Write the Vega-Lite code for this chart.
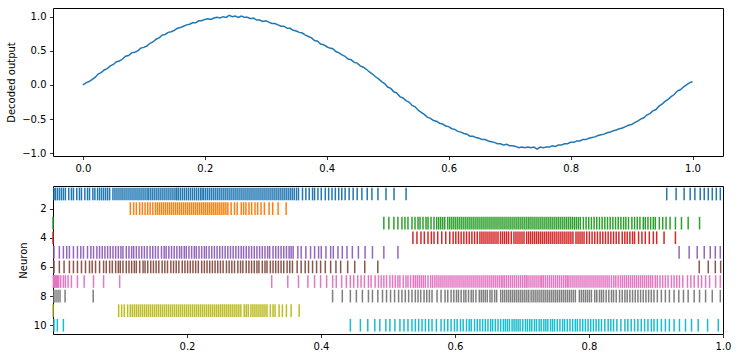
{
"$schema": "https://vega.github.io/schema/vega-lite/v6.json",
"background": "white",
"padding": {"left": 6, "top": 7, "right": 5, "bottom": 5},
"spacing": 30,
"bounds": "flush",
"config": {
"font": "DejaVu Sans",
"view": {"stroke": "#000", "strokeWidth": 1},
"axis": {"domain": false, "grid": false, "labelFlush": false, "labelFont": "DejaVu Sans", "labelFontSize": 10, "labelColor": "#000", "tickColor": "#000", "tickSize": 3.5, "tickWidth": 0.8, "labelPadding": 3.5, "titleFont": "DejaVu Sans", "titleFontSize": 10, "titleFontWeight": "normal", "titleColor": "#000", "titlePadding": 5}
},
"datasets": {
"decoded": [
{"t":0.000,"y":0.00},{"t":0.005,"y":0.03},{"t":0.010,"y":0.05},{"t":0.015,"y":0.08},{"t":0.020,"y":0.11},{"t":0.025,"y":0.16},{"t":0.030,"y":0.18},{"t":0.035,"y":0.22},{"t":0.040,"y":0.24},{"t":0.045,"y":0.28},
{"t":0.050,"y":0.30},{"t":0.055,"y":0.34},{"t":0.060,"y":0.35},{"t":0.065,"y":0.38},{"t":0.070,"y":0.42},{"t":0.075,"y":0.43},{"t":0.080,"y":0.47},{"t":0.085,"y":0.48},{"t":0.090,"y":0.50},{"t":0.095,"y":0.54},
{"t":0.100,"y":0.55},{"t":0.105,"y":0.57},{"t":0.110,"y":0.61},{"t":0.115,"y":0.63},{"t":0.120,"y":0.67},{"t":0.125,"y":0.69},{"t":0.130,"y":0.73},{"t":0.135,"y":0.74},{"t":0.140,"y":0.77},{"t":0.145,"y":0.78},
{"t":0.150,"y":0.80},{"t":0.155,"y":0.83},{"t":0.160,"y":0.84},{"t":0.165,"y":0.86},{"t":0.170,"y":0.88},{"t":0.175,"y":0.89},{"t":0.180,"y":0.91},{"t":0.185,"y":0.91},{"t":0.190,"y":0.94},{"t":0.195,"y":0.94},
{"t":0.200,"y":0.96},{"t":0.205,"y":0.97},{"t":0.210,"y":0.96},{"t":0.215,"y":0.98},{"t":0.220,"y":0.99},{"t":0.225,"y":0.98},{"t":0.230,"y":1.00},{"t":0.235,"y":0.99},{"t":0.240,"y":1.02},{"t":0.245,"y":1.00},
{"t":0.250,"y":1.01},{"t":0.255,"y":0.99},{"t":0.260,"y":1.01},{"t":0.265,"y":0.99},{"t":0.270,"y":0.99},{"t":0.275,"y":0.97},{"t":0.280,"y":0.98},{"t":0.285,"y":0.95},{"t":0.290,"y":0.95},{"t":0.295,"y":0.93},
{"t":0.300,"y":0.94},{"t":0.305,"y":0.92},{"t":0.310,"y":0.90},{"t":0.315,"y":0.90},{"t":0.320,"y":0.88},{"t":0.325,"y":0.86},{"t":0.330,"y":0.86},{"t":0.335,"y":0.83},{"t":0.340,"y":0.83},{"t":0.345,"y":0.80},
{"t":0.350,"y":0.79},{"t":0.355,"y":0.77},{"t":0.360,"y":0.76},{"t":0.365,"y":0.73},{"t":0.370,"y":0.71},{"t":0.375,"y":0.69},{"t":0.380,"y":0.65},{"t":0.385,"y":0.64},{"t":0.390,"y":0.60},{"t":0.395,"y":0.59},
{"t":0.400,"y":0.56},{"t":0.405,"y":0.54},{"t":0.410,"y":0.53},{"t":0.415,"y":0.49},{"t":0.420,"y":0.47},{"t":0.425,"y":0.44},{"t":0.430,"y":0.42},{"t":0.435,"y":0.38},{"t":0.440,"y":0.37},{"t":0.445,"y":0.33},
{"t":0.450,"y":0.32},{"t":0.455,"y":0.28},{"t":0.460,"y":0.26},{"t":0.465,"y":0.23},{"t":0.470,"y":0.19},{"t":0.475,"y":0.16},{"t":0.480,"y":0.12},{"t":0.485,"y":0.09},{"t":0.490,"y":0.05},{"t":0.495,"y":0.02},
{"t":0.500,"y":-0.03},{"t":0.505,"y":-0.05},{"t":0.510,"y":-0.10},{"t":0.515,"y":-0.12},{"t":0.520,"y":-0.17},{"t":0.525,"y":-0.19},{"t":0.530,"y":-0.23},{"t":0.535,"y":-0.25},{"t":0.540,"y":-0.30},{"t":0.545,"y":-0.32},
{"t":0.550,"y":-0.37},{"t":0.555,"y":-0.40},{"t":0.560,"y":-0.43},{"t":0.565,"y":-0.47},{"t":0.570,"y":-0.49},{"t":0.575,"y":-0.52},{"t":0.580,"y":-0.53},{"t":0.585,"y":-0.56},{"t":0.590,"y":-0.57},{"t":0.595,"y":-0.60},
{"t":0.600,"y":-0.61},{"t":0.605,"y":-0.64},{"t":0.610,"y":-0.65},{"t":0.615,"y":-0.68},{"t":0.620,"y":-0.69},{"t":0.625,"y":-0.71},{"t":0.630,"y":-0.72},{"t":0.635,"y":-0.75},{"t":0.640,"y":-0.75},{"t":0.645,"y":-0.77},
{"t":0.650,"y":-0.78},{"t":0.655,"y":-0.80},{"t":0.660,"y":-0.80},{"t":0.665,"y":-0.82},{"t":0.670,"y":-0.83},{"t":0.675,"y":-0.84},{"t":0.680,"y":-0.86},{"t":0.685,"y":-0.86},{"t":0.690,"y":-0.88},{"t":0.695,"y":-0.87},
{"t":0.700,"y":-0.89},{"t":0.705,"y":-0.89},{"t":0.710,"y":-0.90},{"t":0.715,"y":-0.92},{"t":0.720,"y":-0.91},{"t":0.725,"y":-0.92},{"t":0.730,"y":-0.91},{"t":0.735,"y":-0.92},{"t":0.740,"y":-0.91},{"t":0.745,"y":-0.94},
{"t":0.750,"y":-0.91},{"t":0.755,"y":-0.92},{"t":0.760,"y":-0.91},{"t":0.765,"y":-0.91},{"t":0.770,"y":-0.89},{"t":0.775,"y":-0.90},{"t":0.780,"y":-0.88},{"t":0.785,"y":-0.88},{"t":0.790,"y":-0.86},{"t":0.795,"y":-0.86},
{"t":0.800,"y":-0.84},{"t":0.805,"y":-0.84},{"t":0.810,"y":-0.82},{"t":0.815,"y":-0.82},{"t":0.820,"y":-0.80},{"t":0.825,"y":-0.80},{"t":0.830,"y":-0.78},{"t":0.835,"y":-0.77},{"t":0.840,"y":-0.76},{"t":0.845,"y":-0.74},
{"t":0.850,"y":-0.73},{"t":0.855,"y":-0.72},{"t":0.860,"y":-0.70},{"t":0.865,"y":-0.69},{"t":0.870,"y":-0.67},{"t":0.875,"y":-0.66},{"t":0.880,"y":-0.64},{"t":0.885,"y":-0.63},{"t":0.890,"y":-0.61},{"t":0.895,"y":-0.59},
{"t":0.900,"y":-0.58},{"t":0.905,"y":-0.55},{"t":0.910,"y":-0.53},{"t":0.915,"y":-0.50},{"t":0.920,"y":-0.48},{"t":0.925,"y":-0.44},{"t":0.930,"y":-0.42},{"t":0.935,"y":-0.38},{"t":0.940,"y":-0.36},{"t":0.945,"y":-0.31},
{"t":0.950,"y":-0.28},{"t":0.955,"y":-0.24},{"t":0.960,"y":-0.21},{"t":0.965,"y":-0.17},{"t":0.970,"y":-0.14},{"t":0.975,"y":-0.09},{"t":0.980,"y":-0.07},{"t":0.985,"y":-0.03},{"t":0.990,"y":0.00},{"t":0.995,"y":0.03},
{"t":1.000,"y":0.05}
],
"spikes": [
{"n":1,"t":0.0015},{"n":1,"t":0.0035},{"n":1,"t":0.0065},{"n":1,"t":0.0095},{"n":1,"t":0.0125},{"n":1,"t":0.0155},{"n":1,"t":0.0185},{"n":1,"t":0.0235},{"n":1,"t":0.0275},{"n":1,"t":0.0305},{"n":1,"t":0.0355},{"n":1,"t":0.0395},{"n":1,"t":0.0425},{"n":1,"t":0.0475},{"n":1,"t":0.0515},{"n":1,"t":0.0545},{"n":1,"t":0.0595},{"n":1,"t":0.0625},{"n":1,"t":0.0665},{"n":1,"t":0.0695},{"n":1,"t":0.0725},{"n":1,"t":0.0755},{"n":1,"t":0.0785},{"n":1,"t":0.0815},{"n":1,"t":0.0845},{"n":1,"t":0.0895},{"n":1,"t":0.0925},{"n":1,"t":0.0955},{"n":1,"t":0.0985},{"n":1,"t":0.1015},{"n":1,"t":0.1044},{"n":1,"t":0.1074},{"n":1,"t":0.1104},{"n":1,"t":0.1134},{"n":1,"t":0.1164},{"n":1,"t":0.1194},{"n":1,"t":0.1224},{"n":1,"t":0.1254},{"n":1,"t":0.1284},{"n":1,"t":0.1314},{"n":1,"t":0.1344},{"n":1,"t":0.1374},{"n":1,"t":0.1404},
{"n":1,"t":0.143},{"n":1,"t":0.146},{"n":1,"t":0.149},{"n":1,"t":0.152},{"n":1,"t":0.155},{"n":1,"t":0.158},{"n":1,"t":0.161},{"n":1,"t":0.164},{"n":1,"t":0.167},{"n":1,"t":0.170},{"n":1,"t":0.173},{"n":1,"t":0.176},{"n":1,"t":0.179},{"n":1,"t":0.182},{"n":1,"t":0.1845},{"n":1,"t":0.187},{"n":1,"t":0.190},{"n":1,"t":0.193},{"n":1,"t":0.196},{"n":1,"t":0.199},{"n":1,"t":0.202},{"n":1,"t":0.205},{"n":1,"t":0.208},{"n":1,"t":0.211},{"n":1,"t":0.214},{"n":1,"t":0.217},{"n":1,"t":0.220},{"n":1,"t":0.2225},{"n":1,"t":0.225},{"n":1,"t":0.228},{"n":1,"t":0.231},{"n":1,"t":0.234},{"n":1,"t":0.237},{"n":1,"t":0.240},{"n":1,"t":0.243},{"n":1,"t":0.246},{"n":1,"t":0.249},{"n":1,"t":0.252},{"n":1,"t":0.255},{"n":1,"t":0.258},{"n":1,"t":0.261},{"n":1,"t":0.264},{"n":1,"t":0.267},{"n":1,"t":0.270},{"n":1,"t":0.273},{"n":1,"t":0.276},{"n":1,"t":0.279},{"n":1,"t":0.282},{"n":1,"t":0.285},
{"n":1,"t":0.288},{"n":1,"t":0.291},{"n":1,"t":0.294},{"n":1,"t":0.297},{"n":1,"t":0.300},{"n":1,"t":0.303},{"n":1,"t":0.306},{"n":1,"t":0.309},{"n":1,"t":0.312},{"n":1,"t":0.315},{"n":1,"t":0.318},{"n":1,"t":0.321},{"n":1,"t":0.324},{"n":1,"t":0.327},{"n":1,"t":0.330},{"n":1,"t":0.333},{"n":1,"t":0.336},{"n":1,"t":0.339},{"n":1,"t":0.342},{"n":1,"t":0.345},{"n":1,"t":0.348},{"n":1,"t":0.351},{"n":1,"t":0.354},{"n":1,"t":0.357},{"n":1,"t":0.360},{"n":1,"t":0.3634},{"n":1,"t":0.3664},{"n":1,"t":0.3724},{"n":1,"t":0.3774},{"n":1,"t":0.3824},{"n":1,"t":0.3874},{"n":1,"t":0.3904},{"n":1,"t":0.3954},{"n":1,"t":0.4004},{"n":1,"t":0.4064},{"n":1,"t":0.4114},{"n":1,"t":0.4164},{"n":1,"t":0.4214},{"n":1,"t":0.4264},{"n":1,"t":0.431},{"n":1,"t":0.436},{"n":1,"t":0.442},{"n":1,"t":0.448},{"n":1,"t":0.454},{"n":1,"t":0.461},{"n":1,"t":0.469},{"n":1,"t":0.476},{"n":1,"t":0.485},{"n":1,"t":0.497},{"n":1,"t":0.509},{"n":1,"t":0.527},
{"n":1,"t":0.916},{"n":1,"t":0.930},{"n":1,"t":0.942},{"n":1,"t":0.951},{"n":1,"t":0.958},{"n":1,"t":0.966},{"n":1,"t":0.972},{"n":1,"t":0.978},{"n":1,"t":0.984},{"n":1,"t":0.990},{"n":1,"t":0.996},
{"n":2,"t":0.1154},{"n":2,"t":0.1204},{"n":2,"t":0.1244},{"n":2,"t":0.1294},{"n":2,"t":0.1334},{"n":2,"t":0.1374},{"n":2,"t":0.1414},{"n":2,"t":0.145},{"n":2,"t":0.149},{"n":2,"t":0.153},{"n":2,"t":0.156},{"n":2,"t":0.159},{"n":2,"t":0.162},{"n":2,"t":0.165},{"n":2,"t":0.168},{"n":2,"t":0.171},{"n":2,"t":0.174},{"n":2,"t":0.177},{"n":2,"t":0.180},{"n":2,"t":0.183},{"n":2,"t":0.186},{"n":2,"t":0.189},{"n":2,"t":0.192},{"n":2,"t":0.195},{"n":2,"t":0.198},{"n":2,"t":0.201},{"n":2,"t":0.204},{"n":2,"t":0.207},{"n":2,"t":0.210},{"n":2,"t":0.213},{"n":2,"t":0.216},{"n":2,"t":0.219},{"n":2,"t":0.222},{"n":2,"t":0.225},{"n":2,"t":0.228},{"n":2,"t":0.231},{"n":2,"t":0.234},{"n":2,"t":0.237},{"n":2,"t":0.240},{"n":2,"t":0.243},{"n":2,"t":0.246},{"n":2,"t":0.249},{"n":2,"t":0.252},{"n":2,"t":0.255},{"n":2,"t":0.258},{"n":2,"t":0.261},{"n":2,"t":0.2659},{"n":2,"t":0.2709},{"n":2,"t":0.2749},{"n":2,"t":0.281},{"n":2,"t":0.2845},{"n":2,"t":0.288},{"n":2,"t":0.2925},{"n":2,"t":0.2965},{"n":2,"t":0.3015},{"n":2,"t":0.3055},{"n":2,"t":0.3105},{"n":2,"t":0.3155},{"n":2,"t":0.3225},{"n":2,"t":0.328},{"n":2,"t":0.336},{"n":2,"t":0.348},
{"n":3,"t":0.0},{"n":3,"t":0.4938},{"n":3,"t":0.5013},{"n":3,"t":0.5088},{"n":3,"t":0.5148},{"n":3,"t":0.5208},{"n":3,"t":0.5253},{"n":3,"t":0.5298},{"n":3,"t":0.5358},{"n":3,"t":0.5403},{"n":3,"t":0.5448},{"n":3,"t":0.5478},{"n":3,"t":0.5522},{"n":3,"t":0.5567},{"n":3,"t":0.5597},{"n":3,"t":0.5642},{"n":3,"t":0.5687},{"n":3,"t":0.5727},{"n":3,"t":0.5757},{"n":3,"t":0.5787},{"n":3,"t":0.5817},{"n":3,"t":0.5847},{"n":3,"t":0.5892},{"n":3,"t":0.5922},{"n":3,"t":0.5952},{"n":3,"t":0.5982},{"n":3,"t":0.6012},{"n":3,"t":0.6042},{"n":3,"t":0.6072},{"n":3,"t":0.6102},{"n":3,"t":0.6132},{"n":3,"t":0.6162},{"n":3,"t":0.6192},{"n":3,"t":0.6222},{"n":3,"t":0.6252},{"n":3,"t":0.6282},{"n":3,"t":0.6312},{"n":3,"t":0.6342},{"n":3,"t":0.6372},{"n":3,"t":0.6402},{"n":3,"t":0.6432},{"n":3,"t":0.6462},{"n":3,"t":0.6492},{"n":3,"t":0.6522},{"n":3,"t":0.6552},{"n":3,"t":0.6582},{"n":3,"t":0.6612},{"n":3,"t":0.6642},{"n":3,"t":0.6672},{"n":3,"t":0.6702},{"n":3,"t":0.6732},{"n":3,"t":0.6762},{"n":3,"t":0.6792},{"n":3,"t":0.6822},{"n":3,"t":0.6852},{"n":3,"t":0.6882},{"n":3,"t":0.6912},{"n":3,"t":0.6942},{"n":3,"t":0.6972},{"n":3,"t":0.7002},{"n":3,"t":0.7032},{"n":3,"t":0.7062},{"n":3,"t":0.7092},
{"n":3,"t":0.712},{"n":3,"t":0.715},{"n":3,"t":0.718},{"n":3,"t":0.721},{"n":3,"t":0.724},{"n":3,"t":0.727},{"n":3,"t":0.730},{"n":3,"t":0.733},{"n":3,"t":0.736},{"n":3,"t":0.739},{"n":3,"t":0.742},{"n":3,"t":0.745},{"n":3,"t":0.748},{"n":3,"t":0.751},{"n":3,"t":0.754},{"n":3,"t":0.757},{"n":3,"t":0.760},{"n":3,"t":0.763},{"n":3,"t":0.766},{"n":3,"t":0.769},{"n":3,"t":0.772},{"n":3,"t":0.775},{"n":3,"t":0.778},{"n":3,"t":0.781},{"n":3,"t":0.784},{"n":3,"t":0.787},{"n":3,"t":0.7916},{"n":3,"t":0.7956},{"n":3,"t":0.7996},{"n":3,"t":0.8036},{"n":3,"t":0.8076},{"n":3,"t":0.8116},{"n":3,"t":0.8156},{"n":3,"t":0.8196},{"n":3,"t":0.8236},{"n":3,"t":0.8276},{"n":3,"t":0.8316},{"n":3,"t":0.8356},{"n":3,"t":0.8396},{"n":3,"t":0.8436},{"n":3,"t":0.8476},{"n":3,"t":0.8516},{"n":3,"t":0.855},{"n":3,"t":0.859},{"n":3,"t":0.864},{"n":3,"t":0.868},{"n":3,"t":0.872},{"n":3,"t":0.876},{"n":3,"t":0.881},{"n":3,"t":0.884},{"n":3,"t":0.888},{"n":3,"t":0.892},{"n":3,"t":0.896},{"n":3,"t":0.899},{"n":3,"t":0.905},{"n":3,"t":0.910},{"n":3,"t":0.915},{"n":3,"t":0.921},{"n":3,"t":0.929},{"n":3,"t":0.938},{"n":3,"t":0.948},{"n":3,"t":0.965},
{"n":4,"t":0.0},{"n":4,"t":0.5372},{"n":4,"t":0.5432},{"n":4,"t":0.5492},{"n":4,"t":0.5542},{"n":4,"t":0.5597},{"n":4,"t":0.5647},{"n":4,"t":0.5687},{"n":4,"t":0.5742},{"n":4,"t":0.5802},{"n":4,"t":0.5862},{"n":4,"t":0.5922},{"n":4,"t":0.5972},{"n":4,"t":0.6012},{"n":4,"t":0.6052},{"n":4,"t":0.6092},{"n":4,"t":0.6132},{"n":4,"t":0.6172},{"n":4,"t":0.6212},{"n":4,"t":0.6252},{"n":4,"t":0.6292},{"n":4,"t":0.6332},{"n":4,"t":0.6372},{"n":4,"t":0.6402},{"n":4,"t":0.6432},{"n":4,"t":0.6462},{"n":4,"t":0.6492},{"n":4,"t":0.6522},{"n":4,"t":0.6552},{"n":4,"t":0.6582},{"n":4,"t":0.6612},{"n":4,"t":0.6642},{"n":4,"t":0.668},{"n":4,"t":0.671},{"n":4,"t":0.674},{"n":4,"t":0.677},{"n":4,"t":0.680},{"n":4,"t":0.684},{"n":4,"t":0.688},{"n":4,"t":0.691},{"n":4,"t":0.694},{"n":4,"t":0.697},{"n":4,"t":0.700},{"n":4,"t":0.703},{"n":4,"t":0.707},{"n":4,"t":0.710},
{"n":4,"t":0.713},{"n":4,"t":0.716},{"n":4,"t":0.719},{"n":4,"t":0.722},{"n":4,"t":0.725},{"n":4,"t":0.728},{"n":4,"t":0.731},{"n":4,"t":0.734},{"n":4,"t":0.737},{"n":4,"t":0.740},{"n":4,"t":0.743},{"n":4,"t":0.746},{"n":4,"t":0.749},{"n":4,"t":0.752},{"n":4,"t":0.755},{"n":4,"t":0.758},{"n":4,"t":0.761},{"n":4,"t":0.764},{"n":4,"t":0.767},{"n":4,"t":0.770},{"n":4,"t":0.773},{"n":4,"t":0.776},{"n":4,"t":0.7806},{"n":4,"t":0.7836},{"n":4,"t":0.7866},{"n":4,"t":0.7896},{"n":4,"t":0.7926},{"n":4,"t":0.7966},{"n":4,"t":0.8006},{"n":4,"t":0.8046},{"n":4,"t":0.8086},{"n":4,"t":0.8126},{"n":4,"t":0.8166},{"n":4,"t":0.8206},{"n":4,"t":0.8246},{"n":4,"t":0.8286},{"n":4,"t":0.8326},{"n":4,"t":0.8366},{"n":4,"t":0.8406},{"n":4,"t":0.8446},{"n":4,"t":0.8496},{"n":4,"t":0.8535},{"n":4,"t":0.857},{"n":4,"t":0.861},{"n":4,"t":0.865},{"n":4,"t":0.868},{"n":4,"t":0.874},{"n":4,"t":0.879},{"n":4,"t":0.884},{"n":4,"t":0.890},{"n":4,"t":0.896},{"n":4,"t":0.901},{"n":4,"t":0.912},{"n":4,"t":0.929},
{"n":5,"t":0.0015},{"n":5,"t":0.0095},{"n":5,"t":0.0155},{"n":5,"t":0.0205},{"n":5,"t":0.0245},{"n":5,"t":0.0305},{"n":5,"t":0.0365},{"n":5,"t":0.0415},{"n":5,"t":0.0455},{"n":5,"t":0.0515},{"n":5,"t":0.0565},{"n":5,"t":0.0605},{"n":5,"t":0.0655},{"n":5,"t":0.0695},{"n":5,"t":0.0735},{"n":5,"t":0.0775},{"n":5,"t":0.0815},{"n":5,"t":0.0855},{"n":5,"t":0.0895},{"n":5,"t":0.0935},{"n":5,"t":0.0975},{"n":5,"t":0.1014},{"n":5,"t":0.1044},{"n":5,"t":0.1094},{"n":5,"t":0.1134},{"n":5,"t":0.1174},{"n":5,"t":0.1204},{"n":5,"t":0.1244},{"n":5,"t":0.1284},{"n":5,"t":0.1324},{"n":5,"t":0.1364},{"n":5,"t":0.1404},{"n":5,"t":0.1449},{"n":5,"t":0.1489},{"n":5,"t":0.1529},{"n":5,"t":0.1569},{"n":5,"t":0.1619},{"n":5,"t":0.1659},{"n":5,"t":0.1689},{"n":5,"t":0.1729},{"n":5,"t":0.1769},{"n":5,"t":0.1809},{"n":5,"t":0.1849},{"n":5,"t":0.1889},{"n":5,"t":0.1919},{"n":5,"t":0.1959},{"n":5,"t":0.1989},{"n":5,"t":0.2029},{"n":5,"t":0.2069},{"n":5,"t":0.2109},{"n":5,"t":0.2139},{"n":5,"t":0.2179},{"n":5,"t":0.2219},{"n":5,"t":0.2259},{"n":5,"t":0.2289},{"n":5,"t":0.2329},{"n":5,"t":0.2369},{"n":5,"t":0.2409},{"n":5,"t":0.2449},{"n":5,"t":0.2489},{"n":5,"t":0.2529},{"n":5,"t":0.2569},{"n":5,"t":0.2609},{"n":5,"t":0.2649},{"n":5,"t":0.2689},{"n":5,"t":0.2729},{"n":5,"t":0.2769},{"n":5,"t":0.2809},
{"n":5,"t":0.2844},{"n":5,"t":0.2884},{"n":5,"t":0.2924},{"n":5,"t":0.2964},{"n":5,"t":0.3004},{"n":5,"t":0.3044},{"n":5,"t":0.3084},{"n":5,"t":0.3124},{"n":5,"t":0.3164},{"n":5,"t":0.3204},{"n":5,"t":0.3234},{"n":5,"t":0.3284},{"n":5,"t":0.3324},{"n":5,"t":0.3364},{"n":5,"t":0.3404},{"n":5,"t":0.3444},{"n":5,"t":0.3484},{"n":5,"t":0.3524},{"n":5,"t":0.3554},{"n":5,"t":0.3584},{"n":5,"t":0.3654},{"n":5,"t":0.3704},{"n":5,"t":0.3774},{"n":5,"t":0.3844},{"n":5,"t":0.3904},{"n":5,"t":0.3964},{"n":5,"t":0.4004},{"n":5,"t":0.4074},{"n":5,"t":0.4144},{"n":5,"t":0.4184},{"n":5,"t":0.4253},{"n":5,"t":0.4318},{"n":5,"t":0.4388},{"n":5,"t":0.4468},{"n":5,"t":0.4558},{"n":5,"t":0.4658},{"n":5,"t":0.4768},{"n":5,"t":0.4938},{"n":5,"t":0.5148},{"n":5,"t":0.9345},{"n":5,"t":0.9495},{"n":5,"t":0.9615},{"n":5,"t":0.972},{"n":5,"t":0.981},{"n":5,"t":0.9885},{"n":5,"t":0.996},
{"n":6,"t":0.0015},{"n":6,"t":0.0095},{"n":6,"t":0.0165},{"n":6,"t":0.0245},{"n":6,"t":0.0305},{"n":6,"t":0.0365},{"n":6,"t":0.0425},{"n":6,"t":0.0485},{"n":6,"t":0.0545},{"n":6,"t":0.0585},{"n":6,"t":0.0635},{"n":6,"t":0.0695},{"n":6,"t":0.0755},{"n":6,"t":0.0795},{"n":6,"t":0.0845},{"n":6,"t":0.0885},{"n":6,"t":0.0935},{"n":6,"t":0.0975},{"n":6,"t":0.1004},{"n":6,"t":0.1044},{"n":6,"t":0.1094},{"n":6,"t":0.1134},{"n":6,"t":0.1174},{"n":6,"t":0.1214},{"n":6,"t":0.1244},{"n":6,"t":0.1294},{"n":6,"t":0.1344},{"n":6,"t":0.1374},{"n":6,"t":0.1414},{"n":6,"t":0.1459},{"n":6,"t":0.1499},{"n":6,"t":0.1539},{"n":6,"t":0.1579},{"n":6,"t":0.1629},{"n":6,"t":0.1669},{"n":6,"t":0.1709},{"n":6,"t":0.1759},{"n":6,"t":0.1799},{"n":6,"t":0.1839},{"n":6,"t":0.1879},{"n":6,"t":0.1929},{"n":6,"t":0.1969},{"n":6,"t":0.2009},{"n":6,"t":0.2049},{"n":6,"t":0.2089},{"n":6,"t":0.2129},{"n":6,"t":0.2169},{"n":6,"t":0.2219},{"n":6,"t":0.2259},{"n":6,"t":0.2299},{"n":6,"t":0.2339},{"n":6,"t":0.2379},{"n":6,"t":0.2419},{"n":6,"t":0.2459},{"n":6,"t":0.2499},{"n":6,"t":0.2539},{"n":6,"t":0.2589},{"n":6,"t":0.2629},{"n":6,"t":0.2669},{"n":6,"t":0.2709},{"n":6,"t":0.2759},{"n":6,"t":0.2799},
{"n":6,"t":0.2834},{"n":6,"t":0.2884},{"n":6,"t":0.2924},{"n":6,"t":0.2964},{"n":6,"t":0.3004},{"n":6,"t":0.3044},{"n":6,"t":0.3074},{"n":6,"t":0.3124},{"n":6,"t":0.3164},{"n":6,"t":0.3194},{"n":6,"t":0.3244},{"n":6,"t":0.3284},{"n":6,"t":0.3324},{"n":6,"t":0.3364},{"n":6,"t":0.3404},{"n":6,"t":0.3444},{"n":6,"t":0.3494},{"n":6,"t":0.3534},{"n":6,"t":0.3574},{"n":6,"t":0.3644},{"n":6,"t":0.3704},{"n":6,"t":0.3764},{"n":6,"t":0.3814},{"n":6,"t":0.3874},{"n":6,"t":0.3934},{"n":6,"t":0.3994},{"n":6,"t":0.4064},{"n":6,"t":0.4144},{"n":6,"t":0.4223},{"n":6,"t":0.4293},{"n":6,"t":0.4398},{"n":6,"t":0.4503},{"n":6,"t":0.4653},{"n":6,"t":0.4848},{"n":6,"t":0.9645},{"n":6,"t":0.978},{"n":6,"t":0.9885},{"n":6,"t":0.9965},
{"n":7,"t":0.0005},{"n":7,"t":0.002},{"n":7,"t":0.0035},{"n":7,"t":0.005},{"n":7,"t":0.0065},{"n":7,"t":0.0085},{"n":7,"t":0.0115},{"n":7,"t":0.0155},{"n":7,"t":0.0185},{"n":7,"t":0.0225},{"n":7,"t":0.0275},{"n":7,"t":0.0365},{"n":7,"t":0.0465},{"n":7,"t":0.0605},{"n":7,"t":0.0755},{"n":7,"t":0.0995},{"n":7,"t":0.3264},{"n":7,"t":0.3504},{"n":7,"t":0.3664},{"n":7,"t":0.3804},{"n":7,"t":0.3904},{"n":7,"t":0.3994},{"n":7,"t":0.4084},{"n":7,"t":0.4174},{"n":7,"t":0.4228},{"n":7,"t":0.4308},{"n":7,"t":0.4378},{"n":7,"t":0.4438},{"n":7,"t":0.4488},{"n":7,"t":0.4548},{"n":7,"t":0.4598},{"n":7,"t":0.4648},{"n":7,"t":0.4708},{"n":7,"t":0.4748},{"n":7,"t":0.4808},{"n":7,"t":0.4858},{"n":7,"t":0.4898},{"n":7,"t":0.4938},{"n":7,"t":0.4978},{"n":7,"t":0.5028},{"n":7,"t":0.5068},{"n":7,"t":0.5108},{"n":7,"t":0.5148},{"n":7,"t":0.5178},{"n":7,"t":0.5228},{"n":7,"t":0.5268},{"n":7,"t":0.5298},{"n":7,"t":0.5337},{"n":7,"t":0.5377},{"n":7,"t":0.5407},{"n":7,"t":0.5437},{"n":7,"t":0.5467},{"n":7,"t":0.5497},{"n":7,"t":0.5527},{"n":7,"t":0.5557},{"n":7,"t":0.5597},{"n":7,"t":0.5637},{"n":7,"t":0.5667},
{"n":7,"t":0.570},{"n":7,"t":0.573},{"n":7,"t":0.576},{"n":7,"t":0.579},{"n":7,"t":0.582},{"n":7,"t":0.585},{"n":7,"t":0.588},{"n":7,"t":0.591},{"n":7,"t":0.594},{"n":7,"t":0.597},{"n":7,"t":0.600},{"n":7,"t":0.603},{"n":7,"t":0.606},{"n":7,"t":0.609},{"n":7,"t":0.612},{"n":7,"t":0.615},{"n":7,"t":0.618},{"n":7,"t":0.621},{"n":7,"t":0.624},{"n":7,"t":0.627},{"n":7,"t":0.630},{"n":7,"t":0.633},{"n":7,"t":0.636},{"n":7,"t":0.639},{"n":7,"t":0.642},{"n":7,"t":0.645},{"n":7,"t":0.648},{"n":7,"t":0.651},{"n":7,"t":0.654},{"n":7,"t":0.657},{"n":7,"t":0.660},{"n":7,"t":0.663},{"n":7,"t":0.666},{"n":7,"t":0.669},{"n":7,"t":0.6715},{"n":7,"t":0.674},{"n":7,"t":0.677},{"n":7,"t":0.680},{"n":7,"t":0.683},{"n":7,"t":0.686},{"n":7,"t":0.689},{"n":7,"t":0.692},{"n":7,"t":0.695},{"n":7,"t":0.698},{"n":7,"t":0.701},{"n":7,"t":0.704},{"n":7,"t":0.7065},{"n":7,"t":0.709},
{"n":7,"t":0.712},{"n":7,"t":0.715},{"n":7,"t":0.718},{"n":7,"t":0.721},{"n":7,"t":0.724},{"n":7,"t":0.727},{"n":7,"t":0.7295},{"n":7,"t":0.732},{"n":7,"t":0.735},{"n":7,"t":0.738},{"n":7,"t":0.741},{"n":7,"t":0.744},{"n":7,"t":0.747},{"n":7,"t":0.750},{"n":7,"t":0.753},{"n":7,"t":0.756},{"n":7,"t":0.759},{"n":7,"t":0.762},{"n":7,"t":0.765},{"n":7,"t":0.7675},{"n":7,"t":0.770},{"n":7,"t":0.773},{"n":7,"t":0.776},{"n":7,"t":0.779},{"n":7,"t":0.782},{"n":7,"t":0.785},{"n":7,"t":0.788},{"n":7,"t":0.791},{"n":7,"t":0.794},{"n":7,"t":0.797},{"n":7,"t":0.800},{"n":7,"t":0.803},{"n":7,"t":0.806},{"n":7,"t":0.809},{"n":7,"t":0.812},{"n":7,"t":0.815},{"n":7,"t":0.818},{"n":7,"t":0.821},{"n":7,"t":0.824},{"n":7,"t":0.827},{"n":7,"t":0.830},{"n":7,"t":0.8335},{"n":7,"t":0.837},{"n":7,"t":0.840},{"n":7,"t":0.8435},{"n":7,"t":0.847},{"n":7,"t":0.850},
{"n":7,"t":0.853},{"n":7,"t":0.856},{"n":7,"t":0.859},{"n":7,"t":0.862},{"n":7,"t":0.865},{"n":7,"t":0.868},{"n":7,"t":0.871},{"n":7,"t":0.874},{"n":7,"t":0.877},{"n":7,"t":0.880},{"n":7,"t":0.883},{"n":7,"t":0.886},{"n":7,"t":0.889},{"n":7,"t":0.892},{"n":7,"t":0.895},{"n":7,"t":0.899},{"n":7,"t":0.902},{"n":7,"t":0.906},{"n":7,"t":0.910},{"n":7,"t":0.914},{"n":7,"t":0.918},{"n":7,"t":0.923},{"n":7,"t":0.927},{"n":7,"t":0.931},{"n":7,"t":0.935},{"n":7,"t":0.940},{"n":7,"t":0.947},{"n":7,"t":0.952},{"n":7,"t":0.957},{"n":7,"t":0.963},{"n":7,"t":0.968},{"n":7,"t":0.974},{"n":7,"t":0.980},{"n":7,"t":0.989},{"n":7,"t":0.996},
{"n":8,"t":0.0015},{"n":8,"t":0.0045},{"n":8,"t":0.0075},{"n":8,"t":0.0105},{"n":8,"t":0.018},{"n":8,"t":0.06},{"n":8,"t":0.4173},{"n":8,"t":0.4318},{"n":8,"t":0.4438},{"n":8,"t":0.4528},{"n":8,"t":0.4618},{"n":8,"t":0.4708},{"n":8,"t":0.4768},{"n":8,"t":0.4848},{"n":8,"t":0.4918},{"n":8,"t":0.4978},{"n":8,"t":0.5038},{"n":8,"t":0.5098},{"n":8,"t":0.5158},{"n":8,"t":0.5208},{"n":8,"t":0.5258},{"n":8,"t":0.5308},{"n":8,"t":0.5358},{"n":8,"t":0.5408},{"n":8,"t":0.5448},{"n":8,"t":0.5488},{"n":8,"t":0.5538},{"n":8,"t":0.5578},{"n":8,"t":0.5618},{"n":8,"t":0.5657},
{"n":8,"t":0.5732},{"n":8,"t":0.5792},{"n":8,"t":0.5852},{"n":8,"t":0.5892},{"n":8,"t":0.5942},{"n":8,"t":0.5982},{"n":8,"t":0.6022},{"n":8,"t":0.6052},{"n":8,"t":0.6092},{"n":8,"t":0.6132},{"n":8,"t":0.6162},{"n":8,"t":0.6202},{"n":8,"t":0.6242},{"n":8,"t":0.6272},{"n":8,"t":0.6312},{"n":8,"t":0.6362},{"n":8,"t":0.6392},{"n":8,"t":0.6422},{"n":8,"t":0.6452},{"n":8,"t":0.6482},{"n":8,"t":0.6522},{"n":8,"t":0.6552},{"n":8,"t":0.6592},{"n":8,"t":0.6622},{"n":8,"t":0.6682},{"n":8,"t":0.6712},{"n":8,"t":0.6742},{"n":8,"t":0.6772},{"n":8,"t":0.6802},{"n":8,"t":0.6832},{"n":8,"t":0.6862},{"n":8,"t":0.6892},{"n":8,"t":0.6922},{"n":8,"t":0.6952},{"n":8,"t":0.6982},{"n":8,"t":0.7012},{"n":8,"t":0.7042},{"n":8,"t":0.7072},{"n":8,"t":0.7101},
{"n":8,"t":0.7136},{"n":8,"t":0.7166},{"n":8,"t":0.7196},{"n":8,"t":0.7226},{"n":8,"t":0.7256},{"n":8,"t":0.7286},{"n":8,"t":0.7316},{"n":8,"t":0.7346},{"n":8,"t":0.7376},{"n":8,"t":0.7406},{"n":8,"t":0.7436},{"n":8,"t":0.7466},{"n":8,"t":0.7496},{"n":8,"t":0.7526},{"n":8,"t":0.7556},{"n":8,"t":0.7586},{"n":8,"t":0.7616},{"n":8,"t":0.7646},{"n":8,"t":0.7676},{"n":8,"t":0.7706},{"n":8,"t":0.7736},{"n":8,"t":0.7766},{"n":8,"t":0.7796},{"n":8,"t":0.7856},{"n":8,"t":0.7886},{"n":8,"t":0.7916},{"n":8,"t":0.7946},{"n":8,"t":0.7976},{"n":8,"t":0.8006},{"n":8,"t":0.8036},{"n":8,"t":0.8086},{"n":8,"t":0.8116},{"n":8,"t":0.8156},{"n":8,"t":0.8186},{"n":8,"t":0.8216},{"n":8,"t":0.8256},{"n":8,"t":0.8296},{"n":8,"t":0.8336},{"n":8,"t":0.8366},{"n":8,"t":0.8406},{"n":8,"t":0.8456},{"n":8,"t":0.8496},{"n":8,"t":0.8536},
{"n":8,"t":0.857},{"n":8,"t":0.861},{"n":8,"t":0.865},{"n":8,"t":0.869},{"n":8,"t":0.873},{"n":8,"t":0.877},{"n":8,"t":0.881},{"n":8,"t":0.885},{"n":8,"t":0.889},{"n":8,"t":0.893},{"n":8,"t":0.897},{"n":8,"t":0.902},{"n":8,"t":0.908},{"n":8,"t":0.914},{"n":8,"t":0.920},{"n":8,"t":0.927},{"n":8,"t":0.934},{"n":8,"t":0.941},{"n":8,"t":0.948},{"n":8,"t":0.957},{"n":8,"t":0.965},{"n":8,"t":0.974},{"n":8,"t":0.984},{"n":8,"t":0.996},
{"n":9,"t":0.0},{"n":9,"t":0.098},{"n":9,"t":0.1024},{"n":9,"t":0.1064},{"n":9,"t":0.1114},{"n":9,"t":0.1154},{"n":9,"t":0.1184},{"n":9,"t":0.1214},{"n":9,"t":0.1244},{"n":9,"t":0.1274},{"n":9,"t":0.1304},{"n":9,"t":0.1334},{"n":9,"t":0.1364},{"n":9,"t":0.1394},{"n":9,"t":0.1424},{"n":9,"t":0.1454},{"n":9,"t":0.1484},{"n":9,"t":0.1514},{"n":9,"t":0.1544},{"n":9,"t":0.1574},{"n":9,"t":0.1604},{"n":9,"t":0.1634},{"n":9,"t":0.1664},{"n":9,"t":0.1694},{"n":9,"t":0.1724},{"n":9,"t":0.1754},{"n":9,"t":0.1784},{"n":9,"t":0.1814},{"n":9,"t":0.1844},{"n":9,"t":0.1874},{"n":9,"t":0.1904},{"n":9,"t":0.1934},{"n":9,"t":0.1964},{"n":9,"t":0.1994},{"n":9,"t":0.2024},{"n":9,"t":0.2054},{"n":9,"t":0.2084},{"n":9,"t":0.2114},{"n":9,"t":0.2144},{"n":9,"t":0.2174},{"n":9,"t":0.2204},{"n":9,"t":0.2234},{"n":9,"t":0.2264},{"n":9,"t":0.2294},{"n":9,"t":0.2324},{"n":9,"t":0.2354},{"n":9,"t":0.2384},{"n":9,"t":0.2414},{"n":9,"t":0.2444},{"n":9,"t":0.2474},{"n":9,"t":0.2504},{"n":9,"t":0.2534},{"n":9,"t":0.2564},{"n":9,"t":0.2594},{"n":9,"t":0.2624},{"n":9,"t":0.2654},{"n":9,"t":0.2684},{"n":9,"t":0.2714},{"n":9,"t":0.2744},{"n":9,"t":0.2774},{"n":9,"t":0.2804},
{"n":9,"t":0.2854},{"n":9,"t":0.2884},{"n":9,"t":0.2914},{"n":9,"t":0.2954},{"n":9,"t":0.2984},{"n":9,"t":0.3014},{"n":9,"t":0.3044},{"n":9,"t":0.3074},{"n":9,"t":0.3104},{"n":9,"t":0.3134},{"n":9,"t":0.3164},{"n":9,"t":0.3194},{"n":9,"t":0.3244},{"n":9,"t":0.3284},{"n":9,"t":0.3314},{"n":9,"t":0.3374},{"n":9,"t":0.3424},{"n":9,"t":0.3484},{"n":9,"t":0.3554},{"n":9,"t":0.3674},
{"n":10,"t":0.0015},{"n":10,"t":0.0065},{"n":10,"t":0.0155},{"n":10,"t":0.4438},{"n":10,"t":0.4588},{"n":10,"t":0.4698},{"n":10,"t":0.4803},{"n":10,"t":0.4878},{"n":10,"t":0.4968},{"n":10,"t":0.5028},{"n":10,"t":0.5103},{"n":10,"t":0.5178},{"n":10,"t":0.5238},{"n":10,"t":0.5298},{"n":10,"t":0.5358},{"n":10,"t":0.5408},{"n":10,"t":0.5458},{"n":10,"t":0.5508},{"n":10,"t":0.5558},{"n":10,"t":0.5608},{"n":10,"t":0.5657},{"n":10,"t":0.5722},{"n":10,"t":0.5792},{"n":10,"t":0.5842},{"n":10,"t":0.5892},{"n":10,"t":0.5942},{"n":10,"t":0.5992},{"n":10,"t":0.6032},{"n":10,"t":0.6082},{"n":10,"t":0.6122},{"n":10,"t":0.6172},{"n":10,"t":0.6212},{"n":10,"t":0.6242},{"n":10,"t":0.6292},{"n":10,"t":0.6332},{"n":10,"t":0.6372},{"n":10,"t":0.6412},{"n":10,"t":0.6452},{"n":10,"t":0.6492},{"n":10,"t":0.6532},{"n":10,"t":0.6562},{"n":10,"t":0.6602},{"n":10,"t":0.6642},{"n":10,"t":0.6682},{"n":10,"t":0.6722},{"n":10,"t":0.6752},{"n":10,"t":0.6782},{"n":10,"t":0.6812},{"n":10,"t":0.6852},{"n":10,"t":0.6882},{"n":10,"t":0.6912},{"n":10,"t":0.6942},{"n":10,"t":0.6972},{"n":10,"t":0.7012},{"n":10,"t":0.7052},{"n":10,"t":0.7082},
{"n":10,"t":0.7116},{"n":10,"t":0.7146},{"n":10,"t":0.7186},{"n":10,"t":0.7216},{"n":10,"t":0.7256},{"n":10,"t":0.7286},{"n":10,"t":0.7326},{"n":10,"t":0.7356},{"n":10,"t":0.7386},{"n":10,"t":0.7426},{"n":10,"t":0.7456},{"n":10,"t":0.7486},{"n":10,"t":0.7526},{"n":10,"t":0.7566},{"n":10,"t":0.7606},{"n":10,"t":0.7636},{"n":10,"t":0.7676},{"n":10,"t":0.7716},{"n":10,"t":0.7756},{"n":10,"t":0.7796},{"n":10,"t":0.7826},{"n":10,"t":0.7866},{"n":10,"t":0.7906},{"n":10,"t":0.7946},{"n":10,"t":0.7986},{"n":10,"t":0.8026},{"n":10,"t":0.8066},{"n":10,"t":0.8106},{"n":10,"t":0.8146},{"n":10,"t":0.8186},{"n":10,"t":0.8236},{"n":10,"t":0.8286},{"n":10,"t":0.8326},{"n":10,"t":0.8366},{"n":10,"t":0.8416},{"n":10,"t":0.8476},{"n":10,"t":0.8536},{"n":10,"t":0.858},{"n":10,"t":0.863},{"n":10,"t":0.868},{"n":10,"t":0.873},{"n":10,"t":0.878},{"n":10,"t":0.883},{"n":10,"t":0.888},{"n":10,"t":0.893},{"n":10,"t":0.897},{"n":10,"t":0.902},{"n":10,"t":0.908},{"n":10,"t":0.914},{"n":10,"t":0.920},{"n":10,"t":0.927},{"n":10,"t":0.935},{"n":10,"t":0.944},{"n":10,"t":0.953},{"n":10,"t":0.963},{"n":10,"t":0.977},{"n":10,"t":0.993}
]
},
"vconcat": [
{
"width": 670, "height": 148,
"data": {"name": "decoded"},
"mark": {"type": "line", "color": "#1f77b4", "strokeWidth": 1.5},
"encoding": {
"x": {"field": "t", "type": "quantitative", "scale": {"domain": [-0.049, 1.05], "nice": false, "zero": false}, "axis": {"values": [0, 0.2, 0.4, 0.6, 0.8, 1.0], "format": ".1f", "title": null}},
"y": {"field": "y", "type": "quantitative", "scale": {"domain": [-1.04, 1.127], "nice": false, "zero": false}, "axis": {"values": [-1, -0.5, 0, 0.5, 1], "format": ".1f", "title": "Decoded output"}}
}
},
{
"width": 670, "height": 148,
"data": {"name": "spikes"},
"mark": {"type": "tick", "orient": "vertical", "thickness": 1.5, "size": 12.7, "opacity": 1},
"encoding": {
"x": {"field": "t", "type": "quantitative", "scale": {"domain": [0, 1], "nice": false, "zero": false}, "axis": {"values": [0.2, 0.4, 0.6, 0.8, 1.0], "format": ".1f", "title": null}},
"y": {"field": "n", "type": "quantitative", "scale": {"domain": [0.45, 10.6], "reverse": true, "nice": false, "zero": false}, "axis": {"values": [2, 4, 6, 8, 10], "format": "d", "title": "Neuron"}},
"color": {"field": "n", "type": "nominal", "scale": {"domain": [1,2,3,4,5,6,7,8,9,10], "range": ["#1f77b4","#ff7f0e","#2ca02c","#d62728","#9467bd","#8c564b","#e377c2","#7f7f7f","#bcbd22","#17becf"]}, "legend": null}
}
}
]
}
